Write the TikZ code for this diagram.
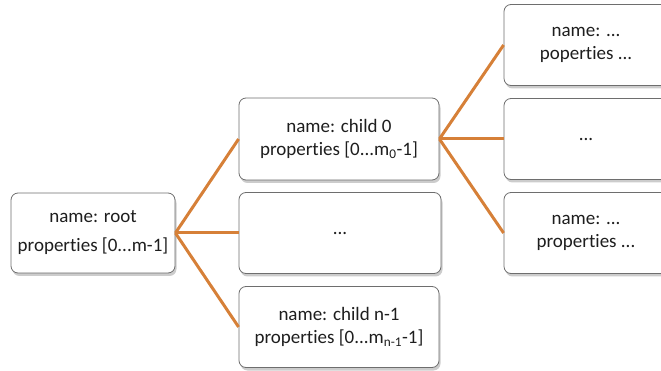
\documentclass[tikz,border=0pt]{standalone}
\usepackage{fontspec}
\setmainfont[Ligatures=NoCommon]{Carlito}
\usetikzlibrary{shadows}
\definecolor{linkc}{RGB}{214,128,56}
\definecolor{txtc}{RGB}{30,30,30}
\definecolor{edgec}{RGB}{110,110,110}
\begin{document}
\begin{tikzpicture}[x=1pt,y=-1pt,
  box/.style={draw=edgec, line width=0.8pt, rounded corners=7pt, fill=white,
    text=txtc, align=center, font=\fontsize{19}{23}\selectfont, inner sep=0pt,
    drop shadow={opacity=0.4, shadow xshift=1.5pt, shadow yshift=-3pt}},
  link/.style={draw=linkc, line width=3pt}]
\useasboundingbox (0,0) rectangle (661,371);
\clip (0,0) rectangle (661,371);
\node[box, minimum width=164pt, minimum height=80pt, font=\fontsize{19}{29}\selectfont] (root) at (93,233) {name: root\\properties [0...m-1]};
\node[box, minimum width=200pt, minimum height=82pt] (c0) at (339,139) {name: child 0\\properties [0...m\textsubscript{0}-1]};
\node[box, minimum width=202pt, minimum height=81pt] (cm) at (340,233) {...};
\node[box, minimum width=200pt, minimum height=81pt] (cn) at (339,327) {name: child n-1\\properties [0...m\textsubscript{n-1}-1]};
\node[box, minimum width=164pt, minimum height=81pt] (r0) at (586,45) {name: ...\\poperties ...};
\node[box, minimum width=164pt, minimum height=81pt] (r1) at (586,139) {...};
\node[box, minimum width=164pt, minimum height=81pt] (r2) at (586,233) {name: ...\\properties ...};
\draw[link] (root.east) -- (c0.west);
\draw[link] (root.east) -- (cm.west);
\draw[link] (root.east) -- (cn.west);
\draw[link] (c0.east) -- (r0.west);
\draw[link] (c0.east) -- (r1.west);
\draw[link] (c0.east) -- (r2.west);
\end{tikzpicture}
\end{document}
